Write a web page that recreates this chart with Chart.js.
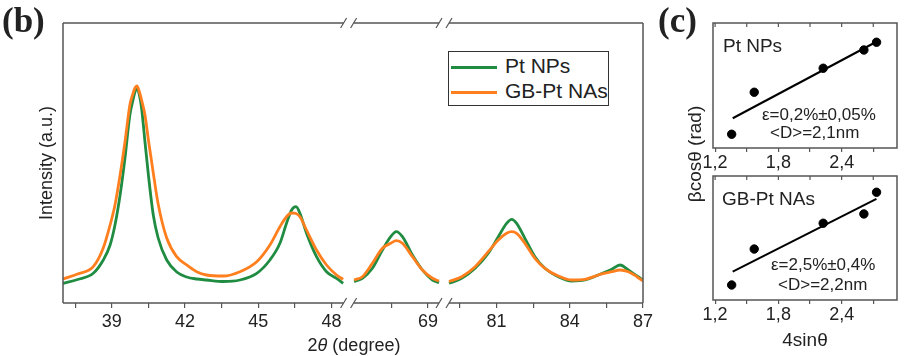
<!DOCTYPE html>
<html>
<head>
<meta charset="utf-8">
<script src="https://cdn.jsdelivr.net/npm/chart.js@4.4.1/dist/chart.umd.min.js"></script>
<style>
html,body{margin:0;padding:0;background:#fff;}
#wrap{position:relative;width:904px;height:356px;overflow:hidden;font-family:'Liberation Sans',Arial,sans-serif;color:#222;}
canvas{position:absolute;}
.t{position:absolute;white-space:nowrap;line-height:1;}
.lab{font-family:'Liberation Serif','Times New Roman',serif;font-weight:bold;font-size:35px;}
#legend{position:absolute;left:448px;top:51px;width:161px;height:55px;box-sizing:border-box;border:1.5px solid #333;background:#fff;}
.sw{position:absolute;height:3px;}
</style>
</head>
<body>
<div id="wrap">
  <canvas id="cb" width="660" height="356" style="left:0;top:0;width:660px;height:356px"></canvas>
  <canvas id="c1" width="244" height="175" style="left:660px;top:0;width:244px;height:175px"></canvas>
  <canvas id="c2" width="244" height="186" style="left:660px;top:170px;width:244px;height:186px"></canvas>

  <div class="t lab" style="left:2px;top:3px">(b)</div>
  <div class="t lab" style="left:658px;top:3px">(c)</div>

  <div class="t" style="left:354px;top:336px;transform:translateX(-50%);font-size:18px">2<i>θ</i> (degree)</div>
  <div class="t" style="left:694px;top:154px;transform:translate(-50%,-50%) rotate(-90deg);font-size:19px">βcosθ (rad)</div>

  <div id="legend"></div>

  <div class="t" id="n1" style="left:723px;top:36px;font-size:19px"></div>
  <div class="t" style="left:762px;top:106px;font-size:17px">ε=0,2%±0,05%</div>
  <div class="t" style="left:770px;top:124px;font-size:17px">&lt;D&gt;=2,1nm</div>
  <div class="t" id="n2" style="left:722px;top:189px;font-size:19px"></div>
  <div class="t" style="left:771px;top:256px;font-size:17px">ε=2,5%±0,4%</div>
  <div class="t" style="left:778px;top:276px;font-size:17px">&lt;D&gt;=2,2nm</div>
</div>
<script>
// ---------------- data: panel (b) XRD patterns ----------------
const seriesNames = ['Pt NPs', 'GB-Pt NAs'];
const seriesColors = ['#1f8c42', '#ff7f1e'];

const twoThetaSeg1 = [37.0, 37.6, 38.24, 38.65, 38.93, 39.13, 39.34, 39.54, 39.74, 39.85, 39.95, 40.03, 40.12, 40.22, 40.36, 40.5, 40.7, 40.9, 41.25, 41.66, 42.07, 42.48, 42.88, 43.57, 44.25, 44.94, 45.48, 45.89, 46.16, 46.37, 46.55, 46.71, 46.98, 47.39, 47.8, 48.21, 48.48];
const ptNpSeg1 = [19.7, 23.5, 29.7, 43, 58, 78, 108, 145, 188, 201, 211, 215, 209, 195, 161, 128, 88, 65, 43, 31, 26, 24, 23, 21.5, 23, 29.7, 43, 59.7, 79.7, 93, 96.3, 89.7, 69.7, 46.3, 31.3, 24.7, 19.7];
const gbPtSeg1 = [24, 29, 36.3, 55, 78, 98, 128, 161, 198, 208, 215, 217, 212, 203, 188, 163, 130, 99, 65, 46.3, 38, 31.3, 28, 27, 31.3, 41.3, 58, 76.3, 86.3, 90, 89.5, 86.3, 73, 53, 38, 28, 23.7];

const twoThetaSeg2 = [65.97, 66.31, 66.72, 67.13, 67.47, 67.7, 67.95, 68.36, 68.77, 69.18, 69.45];
const ptNpSeg2 = [21.3, 24.7, 34.7, 53, 66.3, 71.3, 66.3, 48, 33, 23, 20.3];
const gbPtSeg2 = [23, 26.3, 39.7, 54.7, 59.7, 62.3, 59.7, 46.3, 33, 24.7, 22];

const twoThetaSeg3 = [79.05, 79.57, 80.12, 80.66, 81.07, 81.41, 81.62, 81.82, 82.16, 82.57, 82.98, 83.53, 84.08, 84.62, 85.17, 85.72, 86.06, 86.4, 86.75, 87.0];
const ptNpSeg3 = [19.7, 24.7, 34.7, 49.7, 66.3, 79.7, 83.7, 79.7, 64.7, 46.3, 34.7, 26.3, 22, 23, 28, 33.7, 38, 33, 27, 23];
const gbPtSeg3 = [21.3, 26.3, 36.3, 51.3, 63, 69.7, 71.3, 69.7, 59.7, 44.7, 34.7, 27, 23, 23.7, 28, 31.3, 33, 31.3, 26.3, 22];

const majorTickLabels = [39, 42, 45, 48, 69, 81, 84, 87];
const minorTickValues = [37.5, 40.5, 43.5, 46.5, 67.5, 79.5, 82.5, 85.5];
const axisSegments = [[37, 48.5], [65.95, 69.45], [79.05, 87]];

// ---------------- data: panel (c) Williamson-Hall ----------------
const whX = [1.357, 1.571, 2.225, 2.611, 2.731];
const whPtNp = [0.11, 0.446, 0.638, 0.784, 0.846];
const whGbPt = [0.121, 0.411, 0.619, 0.694, 0.869];
const fitX = [1.367, 2.73];
const fitPtNp = [0.238, 0.85];
const fitGbPt = [0.228, 0.815];
const whTickValues = [1.2, 1.5, 1.8, 2.1, 2.4, 2.7];
const whTickLabels = ['1,2', '1,8', '2,4'];

// ---------------- helpers ----------------
const FONT = "'Liberation Sans', Arial, sans-serif";
const GAP_UNITS = 0.41;
const AX = '#555';

function toUnit(v) {
  let off = 0;
  for (let i = 0; i < axisSegments.length; i++) {
    const [a, b] = axisSegments[i];
    if (v <= b || i === axisSegments.length - 1) {
      if (v < a) return off - GAP_UNITS / 2;
      return off + (v - a);
    }
    off += (b - a) + GAP_UNITS;
  }
  return off;
}
const TOTAL_UNITS = toUnit(axisSegments[axisSegments.length - 1][1]);

class BrokenScale extends Chart.LinearScale {
  getPixelForValue(value) {
    return this.left + (toUnit(value) / TOTAL_UNITS) * this.width;
  }
  getValueForPixel(pixel) {
    const u = (pixel - this.left) / this.width * TOTAL_UNITS;
    let off = 0;
    for (const [a, b] of axisSegments) {
      if (u <= off + (b - a)) return a + Math.max(0, u - off);
      off += (b - a) + GAP_UNITS;
    }
    return axisSegments[axisSegments.length - 1][1];
  }
}
BrokenScale.id = 'broken';
BrokenScale.defaults = Chart.LinearScale.defaults;
Chart.register(BrokenScale);

function pts(xs, ys) { return xs.map((x, i) => ({ x, y: ys[i] })); }
const gap = x => ({ x, y: null });

const ptNpData = [...pts(twoThetaSeg1, ptNpSeg1), gap(57), ...pts(twoThetaSeg2, ptNpSeg2), gap(74), ...pts(twoThetaSeg3, ptNpSeg3)];
const gbPtData = [...pts(twoThetaSeg1, gbPtSeg1), gap(57), ...pts(twoThetaSeg2, gbPtSeg2), gap(74), ...pts(twoThetaSeg3, gbPtSeg3)];

// legend + annotation names
const lg = document.getElementById('legend');
seriesNames.forEach((n, i) => {
  const sw = document.createElement('div');
  sw.className = 'sw';
  sw.style.cssText = `left:2px;top:${13.5 + i * 25}px;width:46px;background:${seriesColors[i]}`;
  lg.appendChild(sw);
  const tx = document.createElement('div');
  tx.className = 't';
  tx.style.cssText = `left:56px;top:${3 + i * 25}px;font-size:21px`;
  tx.textContent = n;
  lg.appendChild(tx);
});
document.getElementById('n1').textContent = seriesNames[0];
document.getElementById('n2').textContent = seriesNames[1];

// ---------------- plugins ----------------
const brokenFrame = {
  id: 'brokenFrame',
  afterDraw(chart) {
    const { ctx, chartArea: { left, right, top, bottom } } = chart;
    const xs = chart.scales.x;
    ctx.save();
    ctx.strokeStyle = AX;
    ctx.lineWidth = 1.5;
    const line = (x0, y0, x1, y1) => { ctx.beginPath(); ctx.moveTo(x0, y0); ctx.lineTo(x1, y1); ctx.stroke(); };
    line(left, top, left, bottom);
    line(right, top, right, bottom);
    const n = axisSegments.length;
    axisSegments.forEach(([a, b], i) => {
      const x0 = i === 0 ? left : xs.getPixelForValue(a);
      const x1 = i === n - 1 ? right : xs.getPixelForValue(b);
      line(x0, top, x1, top);
      line(x0, bottom, x1, bottom);
    });
    ctx.lineWidth = 1.2;
    for (let i = 0; i < n - 1; i++) {
      [xs.getPixelForValue(axisSegments[i][1]), xs.getPixelForValue(axisSegments[i + 1][0])].forEach(x => {
        [top, bottom].forEach(y => line(x - 3, y + 5, x + 3, y - 5));
      });
    }
    ctx.restore();
  }
};

const boxFrame = {
  id: 'boxFrame',
  afterDraw(chart) {
    const { ctx, chartArea: { left, right, top, bottom } } = chart;
    const xs = chart.scales.x;
    ctx.save();
    ctx.strokeStyle = AX;
    ctx.lineWidth = 1.5;
    ctx.strokeRect(left, top, right - left, bottom - top);
    ctx.lineWidth = 1.2;
    xs.ticks.forEach(t => {
      const x = xs.getPixelForValue(t.value);
      ctx.beginPath(); ctx.moveTo(x, top); ctx.lineTo(x, top + 4); ctx.stroke();
    });
    ctx.restore();
  }
};

// ---------------- chart (b) ----------------
new Chart(document.getElementById('cb'), {
  type: 'line',
  data: {
    datasets: [
      { label: seriesNames[0], data: ptNpData, borderColor: seriesColors[0], borderWidth: 2.8, pointRadius: 0, cubicInterpolationMode: 'monotone', spanGaps: false, order: 2 },
      { label: seriesNames[1], data: gbPtData, borderColor: seriesColors[1], borderWidth: 2.8, pointRadius: 0, cubicInterpolationMode: 'monotone', spanGaps: false, order: 1 }
    ]
  },
  options: {
    responsive: false,
    animation: false,
    events: [],
    layout: { padding: { left: 35, right: 17, top: 23, bottom: 0 } },
    plugins: { legend: { display: false }, tooltip: { enabled: false } },
    scales: {
      x: {
        type: 'broken',
        min: 37, max: 87,
        afterBuildTicks: s => { s.ticks = [...majorTickLabels, ...minorTickValues].sort((a, b) => a - b).map(v => ({ value: v })); },
        afterFit: s => { s.height = 53; s.paddingLeft = 0; s.paddingRight = 0; },
        ticks: {
          autoSkip: false, maxRotation: 0, minRotation: 0, padding: 3,
          color: '#222', font: { family: FONT, size: 18 },
          callback: v => majorTickLabels.includes(v) ? String(v) : ''
        },
        grid: { display: true, drawOnChartArea: false, drawTicks: true, tickLength: 5, color: AX, lineWidth: 1.2 },
        border: { display: false },
        title: { display: false }
      },
      y: {
        min: 0, max: 280,
        afterFit: s => { s.width = 28; },
        ticks: { display: false },
        grid: { display: false },
        border: { display: false },
        title: { display: true, text: 'Intensity (a.u.)', color: '#222', font: { family: FONT, size: 18 }, padding: { top: 1, bottom: 0 } }
      }
    }
  },
  plugins: [brokenFrame]
});

// ---------------- charts (c) ----------------
function whChart(id, ys, fitYs, padTop, axisH, showTitle) {
  return new Chart(document.getElementById(id), {
    type: 'scatter',
    data: {
      datasets: [
        { data: pts(whX, ys), pointRadius: 4.2, pointBackgroundColor: '#000', pointBorderColor: '#000', showLine: false },
        { data: pts(fitX, fitYs), showLine: true, borderColor: '#000', borderWidth: 2, pointRadius: 0 }
      ]
    },
    options: {
      responsive: false,
      animation: false,
      events: [],
      layout: { padding: { left: 53, right: 7, top: padTop, bottom: 0 } },
      plugins: { legend: { display: false }, tooltip: { enabled: false } },
      scales: {
        x: {
          type: 'linear', min: 1.18, max: 2.925,
          afterBuildTicks: s => { s.ticks = whTickValues.map(v => ({ value: v })); },
          afterFit: s => { s.height = axisH; s.paddingLeft = 0; s.paddingRight = 0; },
          ticks: {
            autoSkip: false, maxRotation: 0, minRotation: 0, padding: 0,
            color: '#222', font: { family: FONT, size: 18 },
            callback: v => { const l = v.toFixed(1).replace('.', ','); return whTickLabels.includes(l) ? l : ''; }
          },
          grid: { display: true, drawOnChartArea: false, drawTicks: true, tickLength: 4, color: AX, lineWidth: 1.2 },
          border: { display: false },
          title: { display: showTitle, text: '4sinθ', color: '#222', font: { family: FONT, size: 19 }, padding: { top: 0, bottom: 4 } }
        },
        y: { display: false, min: 0, max: 1 }
      }
    },
    plugins: [boxFrame]
  });
}
whChart('c1', whPtNp, fitPtNp, 23, 27, false);
whChart('c2', whGbPt, fitGbPt, 6, 56, true);
</script>
</body>
</html>
